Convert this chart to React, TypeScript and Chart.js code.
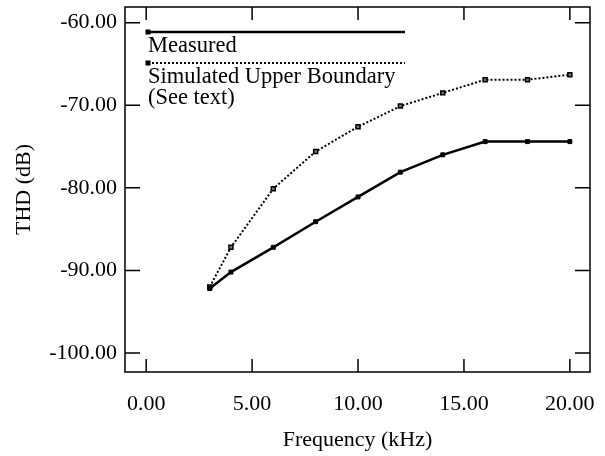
import React, { useEffect, useRef } from "react";
import { Chart, registerables } from "chart.js";

Chart.register(...registerables);

const freqKHz = [3, 4, 6, 8, 10, 12, 14, 16, 18, 20];
const measuredTHD = [-92.2, -90.2, -87.2, -84.1, -81.1, -78.1, -76.0, -74.4, -74.4, -74.4];
const simulatedTHD = [-92.0, -87.2, -80.1, -75.6, -72.6, -70.1, -68.5, -66.9, -66.9, -66.3];
const xTickValues = [0, 5, 10, 15, 20];
const yTickValues = [-100, -90, -80, -70, -60];
const seriesNames = ["Measured", "Simulated Upper Boundary", "(See text)"];
const xTitle = "Frequency (kHz)";
const yTitle = "THD (dB)";

const FONT = "'Liberation Serif', 'Times New Roman', serif";

const framePlugin = {
  id: "frameTicks",
  afterDraw(chart: any) {
    const { ctx, chartArea } = chart;
    const { left, right, top, bottom } = chartArea;
    const xs = chart.scales.x;
    const ys = chart.scales.y;
    ctx.save();
    ctx.strokeStyle = "#000";
    ctx.lineWidth = 1.5;
    ctx.strokeRect(left, top, right - left, bottom - top);
    ctx.beginPath();
    for (const v of xTickValues) {
      const px = xs.getPixelForValue(v);
      ctx.moveTo(px, bottom);
      ctx.lineTo(px, bottom - 13);
      ctx.moveTo(px, top);
      ctx.lineTo(px, top + 13);
    }
    for (const v of yTickValues) {
      const py = ys.getPixelForValue(v);
      ctx.moveTo(left, py);
      ctx.lineTo(left + 15, py);
      ctx.moveTo(right, py);
      ctx.lineTo(right - 15, py);
    }
    ctx.stroke();

    // legend
    const lx0 = left + 23;
    const lx1 = left + 280;
    ctx.lineWidth = 2.5;
    ctx.setLineDash([]);
    ctx.beginPath();
    ctx.moveTo(lx0, top + 25);
    ctx.lineTo(lx1, top + 25);
    ctx.stroke();
    ctx.fillStyle = "#000";
    ctx.fillRect(lx0 - 2.5, top + 22.5, 5, 5);
    ctx.lineWidth = 2;
    ctx.setLineDash([2, 2]);
    ctx.beginPath();
    ctx.moveTo(lx0, top + 56);
    ctx.lineTo(lx1, top + 56);
    ctx.stroke();
    ctx.setLineDash([]);
    ctx.fillRect(lx0 - 2.5, top + 53.5, 5, 5);
    ctx.font = "22.5px " + FONT;
    ctx.textAlign = "left";
    ctx.textBaseline = "alphabetic";
    ctx.fillText(seriesNames[0], lx0, top + 45);
    ctx.fillText(seriesNames[1], lx0, top + 76);
    ctx.fillText(seriesNames[2], lx0, top + 97);
    ctx.restore();
  },
};

export default function App() {
  const ref = useRef<HTMLCanvasElement | null>(null);
  useEffect(() => {
    if (!ref.current) return;
    const chart = new Chart(ref.current, {
      type: "line",
      data: {
        datasets: [
          {
            label: seriesNames[0],
            data: freqKHz.map((x, i) => ({ x, y: measuredTHD[i] })),
            borderColor: "#000",
            borderWidth: 2.5,
            pointStyle: "rect",
            pointRadius: 2.8,
            pointBackgroundColor: "#000",
            pointBorderColor: "#000",
            pointBorderWidth: 1,
            tension: 0,
          },
          {
            label: seriesNames[1],
            data: freqKHz.map((x, i) => ({ x, y: simulatedTHD[i] })),
            borderColor: "#000",
            borderWidth: 2,
            borderDash: [2, 2],
            pointStyle: "rect",
            pointRadius: 2.8,
            pointBackgroundColor: "#777",
            pointBorderColor: "#000",
            pointBorderWidth: 1.5,
            tension: 0,
          },
        ],
      },
      options: {
        animation: false,
        responsive: false,
        maintainAspectRatio: false,
        layout: { padding: { top: 7, right: 15, left: 0, bottom: 0 } },
        plugins: { legend: { display: false }, tooltip: { enabled: false } },
        scales: {
          x: {
            type: "linear",
            min: -1,
            max: 20.95,
            grid: { display: false, drawTicks: false },
            border: { display: false },
            afterBuildTicks: (s: any) => {
              s.ticks = xTickValues.map((v) => ({ value: v }));
            },
            afterFit: (s: any) => {
              s.height = 84;
              s.paddingLeft = 0;
              s.paddingRight = 0;
            },
            ticks: {
              color: "#000",
              font: { family: FONT, size: 22 },
              padding: 19,
              maxRotation: 0,
              callback: (v: any) => Number(v).toFixed(2),
            },
            title: {
              display: true,
              text: xTitle,
              color: "#000",
              font: { family: FONT, size: 22 },
              padding: { top: 0, bottom: 3 },
            },
          },
          y: {
            type: "linear",
            min: -102.3,
            max: -58.1,
            grid: { display: false, drawTicks: false },
            border: { display: false },
            afterBuildTicks: (s: any) => {
              s.ticks = yTickValues.map((v) => ({ value: v }));
            },
            afterFit: (s: any) => {
              s.width = 125;
              s.paddingTop = 0;
              s.paddingBottom = 0;
            },
            ticks: {
              color: "#000",
              font: { family: FONT, size: 22 },
              padding: 8,
              callback: (v: any) => Number(v).toFixed(2),
            },
            title: {
              display: true,
              text: yTitle,
              color: "#000",
              font: { family: FONT, size: 22 },
              padding: { top: 11, bottom: 0 },
            },
          },
        },
      },
      plugins: [framePlugin],
    });
    return () => chart.destroy();
  }, []);
  return (
    <div style={{ position: "fixed", left: 0, top: 0, width: 605, height: 456, background: "#fff" }}>
      <canvas ref={ref} width={605} height={456} style={{ width: 605, height: 456, display: "block" }} />
    </div>
  );
}
